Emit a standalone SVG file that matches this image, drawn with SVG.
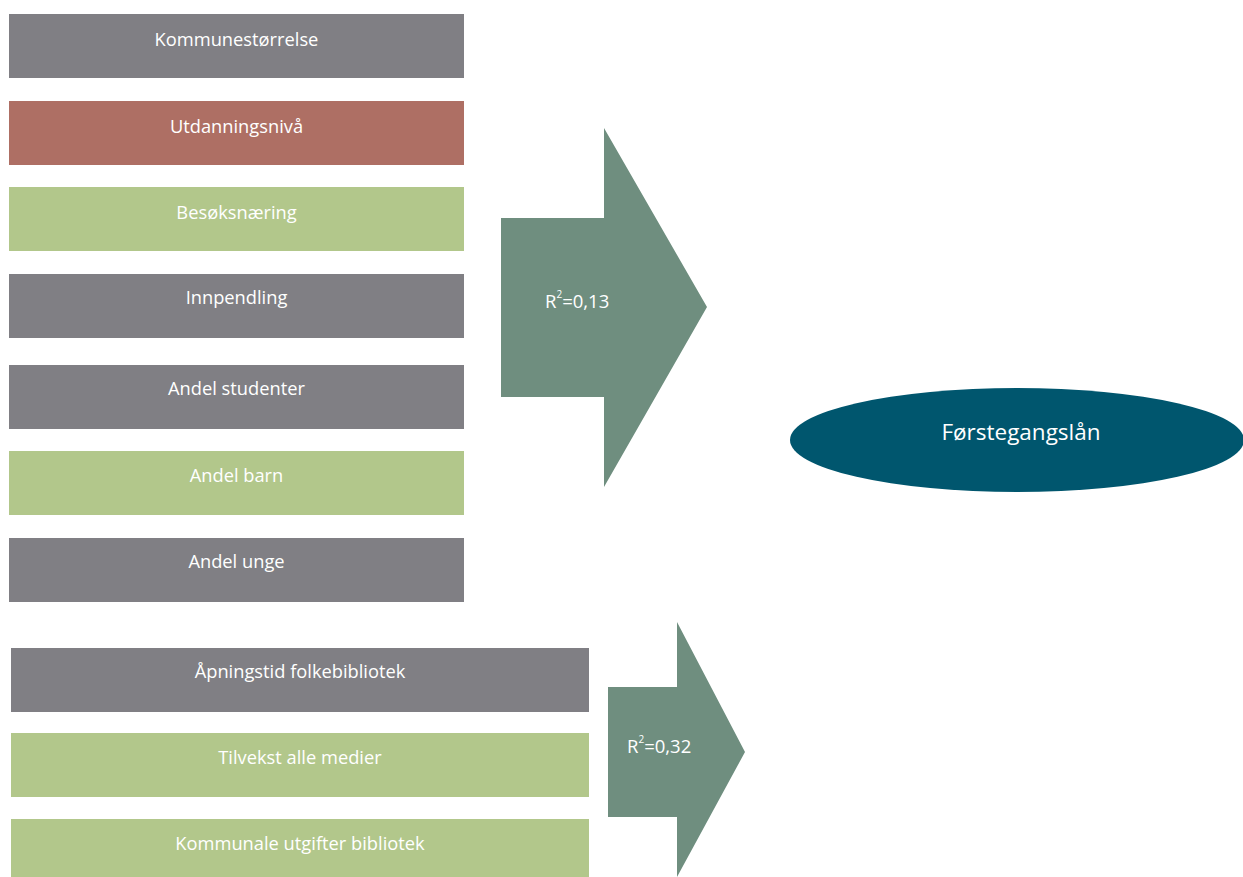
<svg xmlns="http://www.w3.org/2000/svg" width="1243" height="877" viewBox="0 0 1243 877">
<style>
.gray{fill:#807F84}.red{fill:#AE6F64}.green{fill:#B2C78B}
.arrow{fill:#6F8E7F}
.t{font-family:"Open Sans","Liberation Sans",sans-serif;font-size:18.3px;fill:#fff;text-anchor:middle}
.r{font-family:"Open Sans","Liberation Sans",sans-serif;font-size:18.5px;fill:#fff}
.sup{font-size:10px}
</style>
<rect width="1243" height="877" fill="#fff"/>
<g id="kommunestorrelse"><rect class="gray" x="9" y="14" width="455" height="64"/><text class="t" x="236.5" y="46">Kommunestørrelse</text></g>
<g id="utdanningsniva"><rect class="red" x="9" y="101" width="455" height="64"/><text class="t" x="236.5" y="133">Utdanningsnivå</text></g>
<g id="besoksnaring"><rect class="green" x="9" y="187" width="455" height="64"/><text class="t" x="236.5" y="219">Besøksnæring</text></g>
<g id="innpendling"><rect class="gray" x="9" y="274" width="455" height="64"/><text class="t" x="236.5" y="304">Innpendling</text></g>
<g id="andel-studenter"><rect class="gray" x="9" y="365" width="455" height="64"/><text class="t" x="236.5" y="395">Andel studenter</text></g>
<g id="andel-barn"><rect class="green" x="9" y="451" width="455" height="64"/><text class="t" x="236.5" y="482">Andel barn</text></g>
<g id="andel-unge"><rect class="gray" x="9" y="538" width="455" height="64"/><text class="t" x="236.5" y="568">Andel unge</text></g>
<g id="apningstid"><rect class="gray" x="11" y="648" width="578" height="64"/><text class="t" x="300" y="678">Åpningstid folkebibliotek</text></g>
<g id="tilvekst"><rect class="green" x="11" y="733" width="578" height="64"/><text class="t" x="300" y="764">Tilvekst alle medier</text></g>
<g id="utgifter"><rect class="green" x="11" y="819" width="578" height="58"/><text class="t" x="300" y="850">Kommunale utgifter bibliotek</text></g>
<g id="connectors">
<g id="arrow1"><polygon class="arrow" points="501,218 604,218 604,128 707,307 604,487 604,397 501,397"/><text class="r" x="545" y="308">R<tspan class="sup" dy="-10">2</tspan><tspan dy="10">=0,13</tspan></text></g>
<g id="arrow2"><polygon class="arrow" points="608,687 677,687 677,622 745,752 677,877 677,817 608,817"/><text class="r" x="627" y="753">R<tspan class="sup" dy="-10">2</tspan><tspan dy="10">=0,32</tspan></text></g>
</g>
<g id="forstegangslan"><ellipse cx="1017" cy="440" rx="227" ry="52" fill="#00566E"/><text class="t" x="1021" y="440" style="font-size:22.5px">Førstegangslån</text></g>
</svg>
